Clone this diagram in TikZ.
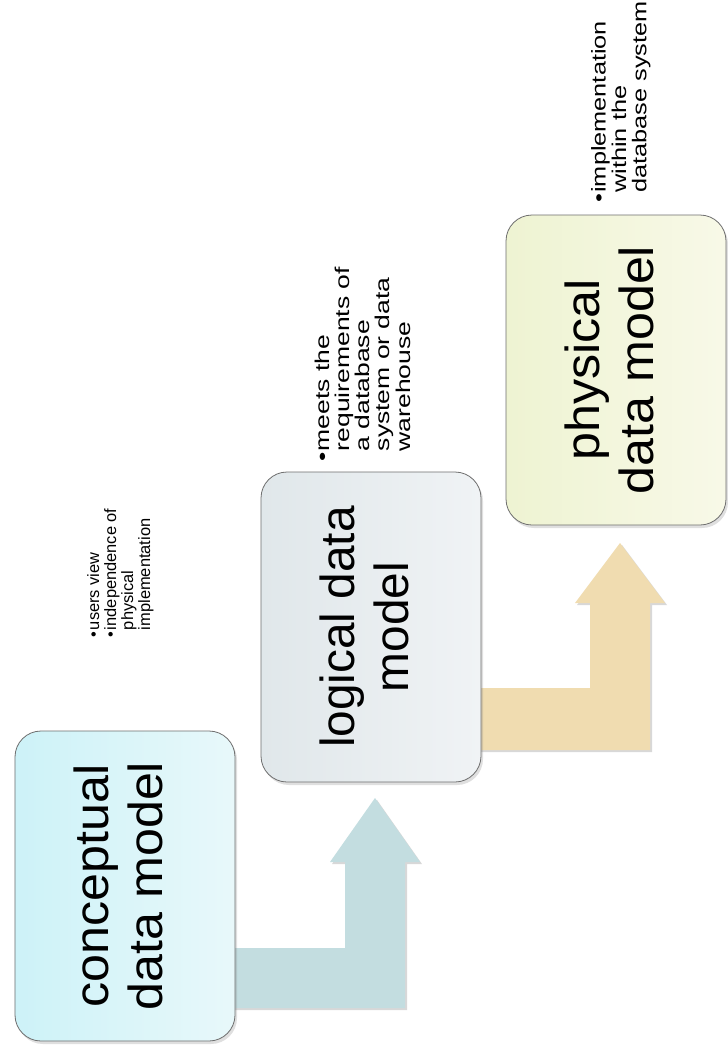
\documentclass[tikz,border=0pt]{standalone}
\usepackage{fontspec}
\setmainfont{Liberation Sans}
\usepackage{graphicx}
\usetikzlibrary{shadows}
\definecolor{c1l}{HTML}{CDF2F8}
\definecolor{c1r}{HTML}{E8F8FA}
\definecolor{c2l}{HTML}{E0E7EA}
\definecolor{c2r}{HTML}{F0F3F5}
\definecolor{c3l}{HTML}{EEF3D2}
\definecolor{c3r}{HTML}{F8F9E8}
\definecolor{arrA}{HTML}{C3DDE0}
\definecolor{arrB}{HTML}{F0DCB0}
\definecolor{edge}{HTML}{6E6E6E}
\begin{document}
\begin{tikzpicture}[x=1bp,y=-1bp,
  box/.style={rectangle, rounded corners=26bp, draw=edge, line width=0.8bp,
    minimum width=220bp, minimum height=310bp, inner sep=0pt,
    drop shadow={opacity=0.25, shadow xshift=2bp, shadow yshift=-3bp}},
  maintext/.style={rotate=90, inner sep=0pt, font=\fontsize{48}{54}\selectfont},
  bullets/.style={rotate=90, inner sep=0pt, anchor=north west},
  arrowshape/.style={drop shadow={opacity=0.3, shadow xshift=2bp, shadow yshift=-2bp}}
]
\useasboundingbox (0,0) rectangle (728,1061);
\fill[white] (0,0) rectangle (728,1061);

% step arrows (behind the boxes)
\fill[arrA, arrowshape] (225,948) -- (345,948) -- (345,862) -- (330,862) -- (375,798)
  -- (420,862) -- (405,862) -- (405,1008) -- (225,1008) -- cycle;
\fill[arrB, arrowshape] (470,688) -- (590,688) -- (590,603) -- (575,603) -- (620,543)
  -- (665,603) -- (650,603) -- (650,750) -- (470,750) -- cycle;

% boxes
\node[box, left color=c1l, right color=c1r] (b1) at (125,886) {};
\node[box, left color=c2l, right color=c2r] (b2) at (371,627) {};
\node[box, left color=c3l, right color=c3r] (b3) at (616,370) {};

% titles
\node[maintext] (t1) at (b1.center) {\scalebox{1.05}[1]{\begin{tabular}{@{}c@{}}conceptual\\data model\end{tabular}}};
\node[maintext] (t2) at (b2.center) {\scalebox{1.0}[1]{\begin{tabular}{@{}c@{}}logical data\\model\end{tabular}}};
\node[maintext] (t3) at (b3.center) {\scalebox{1.05}[1]{\begin{tabular}{@{}c@{}}physical\\data model\end{tabular}}};

% bullet texts
\node[bullets, font=\fontsize{16.5}{17}\selectfont] (n1) at (87,638)
  {\begin{tabular}{@{}l@{\hspace{2bp}}l@{}}\textbullet&users view\\ \textbullet&independence of\\ &physical\\ &implementation\end{tabular}};
\node[bullets, font=\fontsize{20}{19}\selectfont] (n2) at (315,462)
  {\scalebox{1.33}[1]{\begin{tabular}{@{}l@{\hspace{1bp}}l@{}}\textbullet&meets the\\ &requirements of\\ &a database\\ &system or data\\ &warehouse\end{tabular}}};
\node[bullets, font=\fontsize{20}{20}\selectfont] (n3) at (591,203)
  {\scalebox{1.27}[1]{\begin{tabular}{@{}l@{\hspace{1bp}}l@{}}\textbullet&implementation\\ &within the\\ &database system\end{tabular}}};
\end{tikzpicture}
\end{document}
